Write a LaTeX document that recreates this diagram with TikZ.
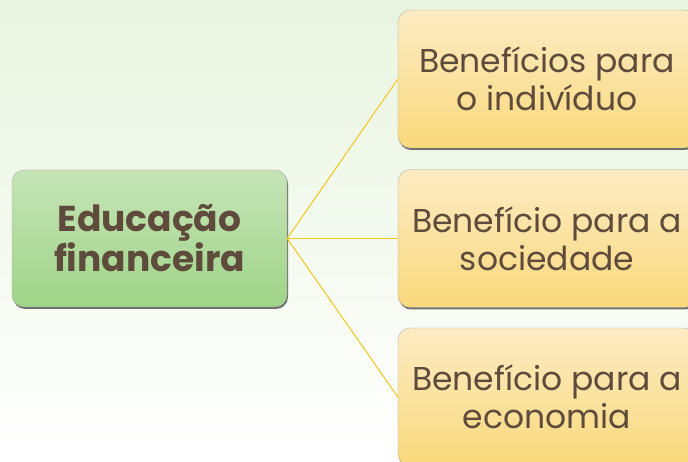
\documentclass[tikz,border=0pt]{standalone}
\usepackage{fontspec}
\setmainfont{Poppins}
\usetikzlibrary{shadows}
\definecolor{texto}{HTML}{5E4B3B}
\definecolor{fundo}{HTML}{E9F5E0}
\definecolor{verdeA}{HTML}{C6E4B7}
\definecolor{verdeB}{HTML}{9FD488}
\definecolor{amareloA}{HTML}{FCEBC3}
\definecolor{amareloB}{HTML}{F9D97C}
\definecolor{linha}{HTML}{F2C51A}

\begin{document}
\begin{tikzpicture}[x=1pt,y=-1pt,
                    tema/.style={top color=verdeA, bottom color=verdeB, draw=black!35, line width=0.3pt, align=center, rectangle, rounded corners=12pt,
                                 minimum width=275pt, minimum height=137pt, text=texto, font=\fontsize{36}{40}\selectfont\bfseries,
                                 drop shadow={shadow xshift=1pt, shadow yshift=-2pt, fill=black!70, opacity=0.8}},
                    beneficio/.style={top color=amareloA, bottom color=amareloB, draw=black!35, line width=0.3pt, align=center, rectangle, rounded corners=12pt,
                                 minimum width=298pt, minimum height=138pt, text=texto, font=\fontsize{33}{38}\selectfont,
                                 drop shadow={shadow xshift=1pt, shadow yshift=-2pt, fill=black!70, opacity=0.8}},
                    ligacao/.style={draw=linha, line width=1pt}]

	\useasboundingbox (0,0) rectangle (688,462);
	\clip (0,0) rectangle (688,462);
	\shade[top color=fundo, bottom color=white] (0,0) rectangle (688,462);

	\node[tema] (Educacao) at (149.5,238.5) {Educação\\financeira};

	\node[beneficio] (Individuo) at (547,79) {Benefícios para\\o indivíduo};

	\node[beneficio] (Sociedade) at (547,238.5) {Benefício para a\\sociedade};

	\node[beneficio] (Economia) at (547,397) {Benefício para a\\economia};


	\path[ligacao] (Educacao.east) edge (Individuo.west);

	\path[ligacao, line width=1.5pt] (Educacao.east) edge (Sociedade.west);

	\path[ligacao] (Educacao.east) edge (Economia.west);

\end{tikzpicture}
\end{document}
